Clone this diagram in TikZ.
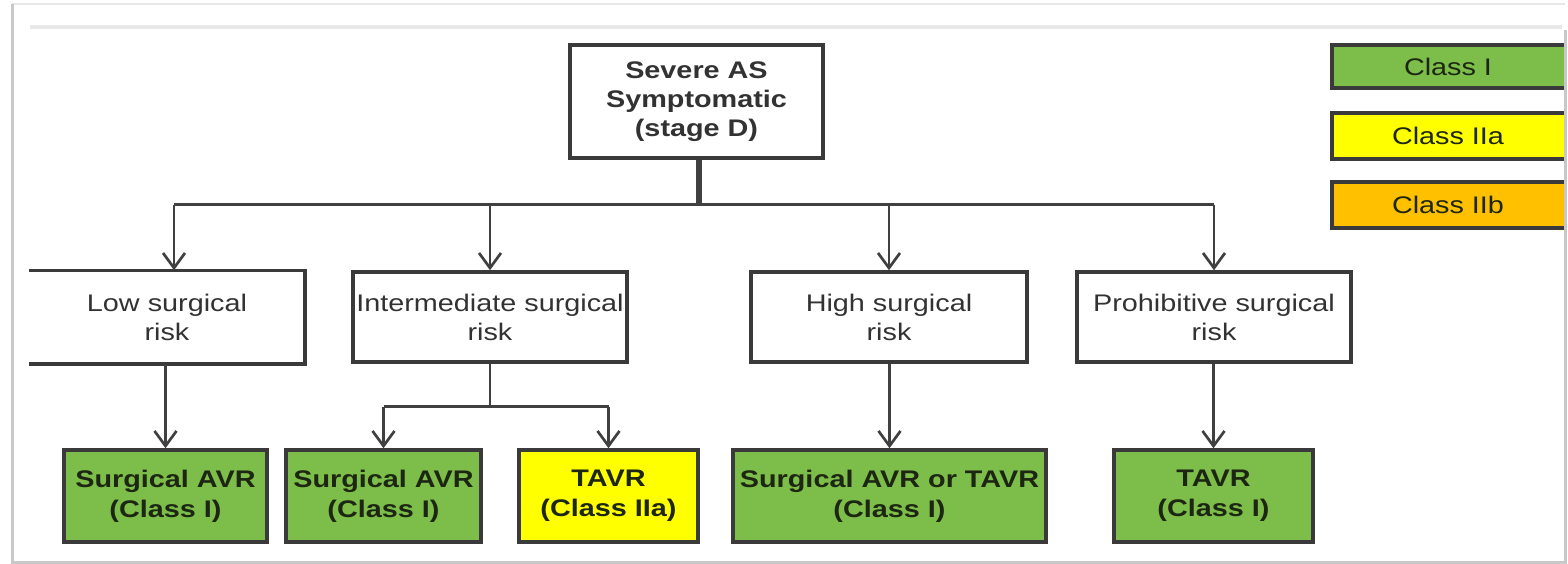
\documentclass[tikz,border=0pt]{standalone}
\usepackage{fontspec}
\setmainfont{Liberation Sans}[FakeStretch=1.2]
\usetikzlibrary{arrows.meta,calc}
\definecolor{bordc}{RGB}{58,58,58}
\definecolor{connc}{RGB}{64,64,64}
\definecolor{txtc}{RGB}{50,50,50}
\definecolor{gtxt}{RGB}{28,38,18}
\definecolor{classI}{RGB}{125,190,74}
\definecolor{classIIa}{RGB}{255,255,0}
\definecolor{classIIb}{RGB}{255,192,0}
\definecolor{framec}{RGB}{200,200,200}
\definecolor{framel}{RGB}{232,232,232}
\begin{document}
\begin{tikzpicture}[x=1pt,y=-1pt,
  font=\fontsize{24}{29}\selectfont,
  box/.style={draw=bordc, line width=3.5pt, inner sep=0pt, align=center, text=txtc},
  riskbox/.style={box, minimum height=90pt},
  resbox/.style={box, minimum height=92pt, font=\fontsize{24}{30}\selectfont\bfseries, text=gtxt},
  legbox/.style={draw=none, inner sep=0pt, minimum width=232pt, text=gtxt},
  legline/.style={draw=bordc, line width=3.5pt, line join=miter},
  conn/.style={draw=connc, line width=2.7pt},
  arr/.style={conn, -{Straight Barb[length=15pt,width=22pt,line width=2.7pt]}}]
\useasboundingbox (0,0) rectangle (1568,564);
% frame
\draw[framel, line width=2pt] (12,4) -- (1565,4);
\draw[framel, line width=4pt] (30,27) -- (1562,27);
\draw[framec, line width=3pt] (12,4) -- (12,562) -- (1565,562) -- (1565,30);
% top node
\node[box, minimum width=253pt, minimum height=113pt, font=\fontsize{24}{29}\selectfont\bfseries]
  (top) at (696.5,101.5) {Severe AS\\Symptomatic\\(stage D)};
% risk nodes
\node[riskbox, draw=none, minimum width=272pt] (low) at (167,317) {Low surgical\\risk};
\draw[bordc, line width=3.5pt, line join=miter] (low.north west) -- (low.north east) -- (low.south east) -- (low.south west);
\node[riskbox, minimum width=274pt] (inter) at (490,317) {Intermediate surgical\\risk};
\node[riskbox, minimum width=276pt] (high) at (889,317) {High surgical\\risk};
\node[riskbox, minimum width=274pt] (prohib) at (1214,317) {Prohibitive surgical\\risk};
% result nodes
\node[resbox, fill=classI, minimum width=203pt] (b1) at (165.5,496) {Surgical AVR\\(Class I)};
\node[resbox, fill=classI, minimum width=195pt] (b2) at (383.5,496) {Surgical AVR\\(Class I)};
\node[resbox, fill=classIIa, minimum width=179pt] (b3) at (608.5,496) {TAVR\\(Class IIa)};
\node[resbox, fill=classI, minimum width=313pt] (b4) at (889.5,496) {Surgical AVR or TAVR\\(Class I)};
\node[resbox, fill=classI, minimum width=199pt] (b5) at (1213.5,496) {TAVR\\(Class I)};
% legend
\node[legbox, fill=classI, minimum height=43pt] (l1) at (1448,66.5) {Class I};
\node[legbox, fill=classIIa, minimum height=46pt] (l2) at (1448,136) {Class IIa};
\node[legbox, fill=classIIb, minimum height=46pt] (l3) at (1448,205) {Class IIb};
\draw[legline] (l1.north east) -- (l1.north west) -- (l1.south west) -- (l1.south east);
\draw[legline] (l2.north east) -- (l2.north west) -- (l2.south west) -- (l2.south east);
\draw[legline] (l3.north east) -- (l3.north west) -- (l3.south west) -- (l3.south east);
% connectors
\coordinate (stemtop) at ($(top.south)+(2.5,0)$);
\coordinate (bus) at ($(stemtop)+(0,45)$);
\coordinate (lowin) at ($(low.north)+(7,0)$);
\draw[conn, line width=6pt] (stemtop) -- (bus);
\draw[conn] (lowin |- bus) -- (prohib.north |- bus);
\draw[arr] (lowin |- bus) -- (lowin);
\draw[arr] (inter.north |- bus) -- (inter.north);
\draw[arr] (high.north |- bus) -- (high.north);
\draw[arr] (prohib.north |- bus) -- (prohib.north);
\draw[arr] (b1.north |- low.south) -- (b1.north);
\coordinate (split) at ($(inter.south)+(0,43)$);
\draw[conn] (inter.south) -- (split);
\draw[conn] (b2.north |- split) -- (b3.north |- split);
\draw[arr] (b2.north |- split) -- (b2.north);
\draw[arr] (b3.north |- split) -- (b3.north);
\draw[arr] (b4.north |- high.south) -- (b4.north);
\draw[arr] (b5.north |- prohib.south) -- (b5.north);
\end{tikzpicture}
\end{document}
